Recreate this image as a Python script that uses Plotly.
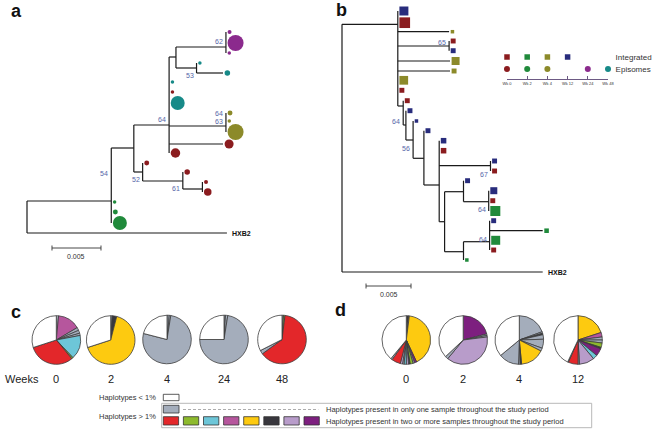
import math
import plotly.graph_objects as go

W, H = 653, 431

# ---------------- Tree a: episomal haplotypes (circles) ----------------
a_names   = ["root","HXB2","A","g1","g2","g3","B","C","G","H","p1","p2","p3","I","t1","t2","t3","r1","t4","J","o1","o2","o3","r2","r3","D","r4","E","r5","F","r6","r7"]
a_parents = [None,"root","root","A","A","A","A","B","C","G","H","H","H","G","I","I","C","C","C","C","J","J","J","C","C","B","D","D","E","E","F","F"]
a_branch  = [0,0.0204,0.0086,0,0,0,0.0023,0.0036,0.0007,0.0051,0,0,0,0.0021,0,0.0027,0,0,0,0.0058,0,0,0,0.0055,0,0.0009,0,0.0041,0,0.0020,0,0]
a_rows    = [21.7,23.3,20.1,20.2,21.2,22.3,14.8,12.5,5.7,4.7,3.2,4.3,5.3,6.8,6.3,7.3,8.2,9.2,10.3,12.6,11.3,12.1,13.2,14.4,15.3,17.2,16.3,18.1,17.2,18.9,18.2,19.2]
a_week    = [None,None,None,"Wk 2","Wk 2","Wk 2",None,None,None,None,"Wk 24","Wk 24","Wk 24",None,"Wk 48","Wk 48","Wk 48","Wk 0","Wk 48",None,"Wk 4","Wk 4","Wk 4","Wk 0","Wk 0",None,"Wk 0",None,"Wk 0",None,"Wk 0","Wk 0"]
a_abund   = [0,0,0,1,2,16,0,0,0,0,1.3,21,1,0,1,2.5,1,1,16,0,2,1,21,6.6,7.4,0,2,0,2.5,0,1.3,4.6]
a_boot_text = ["54","52","61","64","62","53","64","63"]
a_boot_node = ["A","D","E","C","H","I","J","J"]
a_boot_row  = [17.3,17.9,18.8,11.9,4.1,7.5,11.3,12.1]

# ---------------- Tree b: integrated haplotypes (squares) ----------------
b_names   = ["root","HXB2","R","n1","r1","o1","K","r2","n2","o2","o3","o4","r3","S1","r4","S2","n3","S3","n4","S4","n5","S5","n6","r5","S6","n7","r6","S7","S8","n8","S10","n9","r7","g1","S9","S11","n10","g2","g3","r8","g4"]
b_parents = [None,"root","root","R","R","R","R","K","K","R","R","R","R","R","S1","S1","S2","S2","S3","S3","S4","S4","S5","S5","S5","S6","S6","S5","S7","S8","S8","S10","S10","S10","S7","S9","S11","S11","S11","S11","S9"]
b_branch  = [0,0.0223,0.0062,0,0,0.0057,0.0057,0,0,0.0058,0.0058,0,0,0.0006,0,0.0003,0,0.0008,0,0.0012,0,0.0017,0,0,0.0057,0,0,0.0006,0.0021,0,0.0028,0,0,0,0.0021,0.0029,0,0.0059,0,0,0]
b_rows    = [14.8,27.2,2.43,1.1,2.27,3.17,4.6,4.1,5.07,6.1,7.1,8.03,9.03,10.6,10.07,12.5,11.07,14.0,12.1,15.83,13.07,18.5,14.07,15.07,16.57,16.1,17.1,22.17,19.17,18.07,20.17,19.07,20.07,21.1,25.17,24.17,22.07,23.07,24.03,25.0,26.0]
b_week    = [None,None,None,"Wk 12","Wk 0","Wk 4",None,"Wk 0","Wk 12","Wk 4","Wk 4","Wk 4","Wk 0",None,"Wk 0",None,"Wk 12",None,"Wk 12",None,"Wk 12",None,"Wk 12","Wk 0",None,"Wk 12","Wk 0",None,None,"Wk 12",None,"Wk 12","Wk 0","Wk 2",None,None,"Wk 12","Wk 2","Wk 2","Wk 0","Wk 2"]
b_abund   = [0,0,0,6.6,9.3,1,0,2,2,5.2,2,6.2,2,0,2,0,2,0,1,0,2,0,2.5,2.5,0,2,2,0,0,2,0,4,2,8.2,0,0,2,1.7,6.6,2,1]
b_boot_text = ["65","64","56","67","64","64"]
b_boot_node = ["K","S1","S3","S6","S10","S11"]
b_boot_row  = [4.23,12.1,14.8,17.43,20.93,23.9]

# ---------------- Sampling legend ----------------
legend_weeks     = ["Wk 0","Wk 2","Wk 4","Wk 12","Wk 24","Wk 48"]
integrated_weeks = ["Wk 0","Wk 2","Wk 4","Wk 12"]
episome_weeks    = ["Wk 0","Wk 2","Wk 4","Wk 24","Wk 48"]

# ---------------- Pie data (haplotype frequencies, %) ----------------
c_weeks = ["0","2","4","24","48"]
c0_vals = [1.5,15,2,2,1.5,16,1,31,30]
c0_cols = ["gray","pink","gray","gray","gray","cyan","lime","red","white"]
c2_vals = [1,3,66,30]
c2_cols = ["gray","dark","yellow","white"]
c4_vals = [1.5,1,76.5,21]
c4_cols = ["gray","gray","gray","white"]
c24_vals = [1,1.5,72.5,25]
c24_cols = ["gray","gray","gray","white"]
c48_vals = [1,1,63,2.5,32.5]
c48_cols = ["gray","lime","red","gray","white"]

d_weeks = ["0","2","4","12"]
d0_vals = [1.5,0.5,41,1.5,1,2,1,1.5,1.5,1,1.5,6,1,39]
d0_cols = ["dark","gray","yellow","purple","gray","lime","dark","lavender","cyan","gray","lavender","red","gray","white"]
d2_vals = [21,1,1,38,2,37]
d2_cols = ["purple","gray","gray","lavender","gray","white"]
d4_vals = [19.5,1,1,3,6,2,16,1,1,13.5,36]
d4_cols = ["gray","gray","dark","gray","gray","gray","yellow","dark","gray","gray","white"]
d12_vals = [20,3,2,2,3,1,5,3,10,1,6.5,0.5,43]
d12_cols = ["yellow","pink","gray","gray","lime","dark","purple","cyan","lavender","gray","red","gray","white"]

shared_haplotypes = ["red","lime","cyan","pink","yellow","dark","lavender","purple"]

# ---------------- styles ----------------
week_color = {"Wk 0": "#8b1c1f", "Wk 2": "#208a3b", "Wk 4": "#8c8a2a",
              "Wk 12": "#282c7c", "Wk 24": "#8b2a8d", "Wk 48": "#178a88"}
pie_color = {"red": "#e3272a", "lime": "#8dba2d", "cyan": "#6dc6d8", "pink": "#b6569d",
             "yellow": "#fdca10", "dark": "#38373d", "lavender": "#b89cca",
             "purple": "#7d1f7f", "gray": "#a4adbb", "white": "#ffffff"}
FONT = "Liberation Sans, Arial, sans-serif"
LINE = "#1a1a1a"
BOOT = "#5566a8"

def px(x):
    return x / W

def py(y):
    return 1 - y / H

fig = go.Figure()
annotations = []
shapes = []


def paper_text(x, y, text, size, color="#222", xanchor="center", bold=False):
    annotations.append(dict(x=px(x), y=py(y), xref="paper", yref="paper",
                            text=f"<b>{text}</b>" if bold else text, showarrow=False,
                            xanchor=xanchor, yanchor="middle",
                            font=dict(size=size, color=color, family=FONT)))


def draw_tree(names, parents, branch, rows, weeks, abund, boot_text, boot_node, boot_row,
              xa, ya, scale, symbol, sb_start, sb_row):
    idx = {n: i for i, n in enumerate(names)}
    x = [0.0] * len(names)
    children = {n: [] for n in names}
    for i, n in enumerate(names):
        p = parents[i]
        if p is not None:
            x[i] = x[idx[p]] + branch[i]
            children[p].append(i)
    sx, sy = [], []
    for i, n in enumerate(names):
        p = parents[i]
        if p is not None and branch[i] > 0:
            sx += [x[idx[p]], x[i], None]
            sy += [rows[i], rows[i], None]
    for n, ch in children.items():
        if ch:
            ys = [rows[c] for c in ch]
            sx += [x[idx[n]], x[idx[n]], None]
            sy += [min(ys), max(ys), None]
    fig.add_trace(go.Scatter(x=sx, y=sy, mode="lines", line=dict(color=LINE, width=1.2),
                             xaxis=xa, yaxis=ya, hoverinfo="skip", showlegend=False))
    # tip markers, grouped by sampling week
    for wk in legend_weeks:
        mx, my, ms = [], [], []
        for i, n in enumerate(names):
            if weeks[i] == wk:
                s = 3.5 * math.sqrt(abund[i])
                mx.append(x[i] + (s / 2 + 1.6) / scale)
                my.append(rows[i])
                ms.append(s)
        if mx:
            fig.add_trace(go.Scatter(x=mx, y=my, mode="markers", xaxis=xa, yaxis=ya,
                                     marker=dict(symbol=symbol, size=ms, color=week_color[wk],
                                                 opacity=1, line=dict(width=0)),
                                     cliponaxis=False, hoverinfo="skip", showlegend=False))
    # reference label
    ih = idx["HXB2"]
    annotations.append(dict(x=x[ih], y=rows[ih], xref=xa, yref=ya, text="<b>HXB2</b>",
                            showarrow=False, xanchor="left", yanchor="middle", xshift=3,
                            font=dict(size=7, color="#111", family=FONT)))
    # bootstrap values
    for t, nd, r in zip(boot_text, boot_node, boot_row):
        annotations.append(dict(x=x[idx[nd]], y=r, xref=xa, yref=ya, text=t, showarrow=False,
                                xanchor="right", yanchor="middle", xshift=-1,
                                font=dict(size=7, color=BOOT, family=FONT)))
    # scale bar
    sb_len = 0.005
    fig.add_trace(go.Scatter(
        x=[sb_start, sb_start + sb_len, None, sb_start, sb_start, None, sb_start + sb_len, sb_start + sb_len],
        y=[sb_row, sb_row, None, sb_row - 0.25, sb_row + 0.25, None, sb_row - 0.25, sb_row + 0.25],
        mode="lines", line=dict(color="#333", width=0.9), xaxis=xa, yaxis=ya,
        hoverinfo="skip", showlegend=False))
    annotations.append(dict(x=sb_start + sb_len / 2, y=sb_row + 0.8, xref=xa, yref=ya,
                            text=str(sb_len), showarrow=False, xanchor="center", yanchor="middle",
                            font=dict(size=7, color="#333", family=FONT)))


draw_tree(a_names, a_parents, a_branch, a_rows, a_week, a_abund,
          a_boot_text, a_boot_node, a_boot_row, "x", "y", 9800, "circle", 0.00255, 24.8)
draw_tree(b_names, b_parents, b_branch, b_rows, b_week, b_abund,
          b_boot_text, b_boot_node, b_boot_row, "x2", "y2", 9000, "square", 0.00267, 28.6)

# sampling-time legend for the trees
fig.add_trace(go.Scatter(x=integrated_weeks, y=[1] * len(integrated_weeks), mode="markers",
                         marker=dict(symbol="square", size=5.5, opacity=1,
                                     color=[week_color[w] for w in integrated_weeks]),
                         cliponaxis=False, xaxis="x3", yaxis="y3", hoverinfo="skip", showlegend=False))
fig.add_trace(go.Scatter(x=episome_weeks, y=[0] * len(episome_weeks), mode="markers",
                         marker=dict(symbol="circle", size=6, opacity=1,
                                     color=[week_color[w] for w in episome_weeks]),
                         cliponaxis=False, xaxis="x3", yaxis="y3", hoverinfo="skip", showlegend=False))

# ---------------- pies ----------------
R_PIE = 24.3
c_centers = [(56.3, 340), (110.7, 340), (167, 339.5), (224, 339.5), (282, 339.5)]
d_centers = [(406.3, 340), (463.2, 340), (519.3, 340), (578, 340)]
c_series = [(c0_vals, c0_cols), (c2_vals, c2_cols), (c4_vals, c4_cols), (c24_vals, c24_cols), (c48_vals, c48_cols)]
d_series = [(d0_vals, d0_cols), (d2_vals, d2_cols), (d4_vals, d4_cols), (d12_vals, d12_cols)]

def add_pie(vals, cols, cx, cy):
    fig.add_trace(go.Pie(values=vals, labels=[str(i) for i in range(len(vals))],
                         marker=dict(colors=[pie_color[c] for c in cols],
                                     line=dict(color="#3c3c3c", width=0.8)),
                         sort=False, direction="clockwise", rotation=0,
                         textinfo="none", hoverinfo="skip", showlegend=False,
                         domain=dict(x=[px(cx - R_PIE), px(cx + R_PIE)],
                                     y=[py(cy + R_PIE), py(cy - R_PIE)])))

for (v, c), (cx, cy), wk in zip(c_series, c_centers, c_weeks):
    add_pie(v, c, cx, cy)
    paper_text(cx, 379, wk, 11)
for (v, c), (cx, cy), wk in zip(d_series, d_centers, d_weeks):
    add_pie(v, c, cx, cy)
    paper_text(cx, 379, wk, 11)

paper_text(3, 379, "Weeks", 11, xanchor="left")

# panel letters
for letter, (lx, ly) in zip(["a", "b", "c", "d"], [(16, 11), (342, 10), (16, 312), (340, 310)]):
    paper_text(lx, ly, letter, 18, color="#111", bold=True)

# haplotype legend
paper_text(157.5, 397.5, "Haplotypes < 1%", 7.5, color="#333", xanchor="right")
paper_text(157.5, 416, "Haplotypes > 1%", 7.5, color="#333", xanchor="right")
paper_text(323.5, 409.3, "Haplotypes present in only one sample throughout the study period",
           7.5, color="#333", xanchor="left")
paper_text(323.5, 421, "Haplotypes present in two or more samples throughout the study period",
           7.5, color="#333", xanchor="left")
shapes += [
    dict(type="rect", xref="paper", yref="paper", x0=px(163.3), x1=px(179), y0=py(400.7), y1=py(394.3),
         fillcolor="white", line=dict(color="#333", width=0.8)),
    dict(type="rect", xref="paper", yref="paper", x0=px(161.7), x1=px(591.7), y0=py(427.7), y1=py(403.3),
         line=dict(color="#b8b8b8", width=1)),
    dict(type="rect", xref="paper", yref="paper", x0=px(163.3), x1=px(179), y0=py(413), y1=py(405.3),
         fillcolor=pie_color["gray"], line=dict(color="#333", width=0.8)),
    dict(type="line", xref="paper", yref="paper", x0=px(183), x1=px(318.3), y0=py(409.5), y1=py(409.5),
         line=dict(color="#8a8a8a", width=0.7, dash="3px,2px")),
]
for i, c in enumerate(shared_haplotypes):
    x0 = 163.3 + i * 20.1
    shapes.append(dict(type="rect", xref="paper", yref="paper", x0=px(x0), x1=px(x0 + 15.3),
                       y0=py(425), y1=py(416.7), fillcolor=pie_color[c],
                       line=dict(color="#333", width=0.8)))

hidden = dict(visible=False, showgrid=False, zeroline=False, fixedrange=True, automargin=False)
fig.update_layout(
    template="none",
    width=W, height=H, margin=dict(l=0, r=0, t=0, b=0, pad=0, autoexpand=False),
    paper_bgcolor="white", plot_bgcolor="rgba(0,0,0,0)",
    xaxis=dict(domain=[0, px(320)], range=[(0 - 27) / 9800, (320 - 27) / 9800], anchor="y", **hidden),
    yaxis=dict(domain=[py(300), 1], range=[30, 0], anchor="x", **hidden),
    xaxis2=dict(domain=[px(320), 1], range=[(320 - 342) / 9000, (653 - 342) / 9000], anchor="y2", **hidden),
    yaxis2=dict(domain=[py(300), 1], range=[30, 0], anchor="x2", **hidden),
    xaxis3=dict(domain=[px(507), px(608)], type="category", categoryorder="array",
                categoryarray=legend_weeks, range=[0, 5], anchor="y3", automargin=False,
                showline=True, linecolor="#6d5a84", linewidth=1, ticks="inside", ticklen=3,
                tickcolor="#6d5a84", tickwidth=1, tickfont=dict(size=4, color="#333", family=FONT),
                showgrid=False, zeroline=False, fixedrange=True),
    yaxis3=dict(domain=[py(79), py(50)], range=[-10 / 12, -10 / 12 + 29 / 12], anchor="x3",
                side="right", tickvals=[1, 0], ticktext=["Integrated", "Episomes"], automargin=False,
                ticks="outside", ticklen=5, tickcolor="rgba(0,0,0,0)",
                tickfont=dict(size=8, color="#333", family=FONT),
                showline=False, showgrid=False, zeroline=False, fixedrange=True),
    annotations=annotations, shapes=shapes,
    font=dict(family=FONT),
)

fig.write_html("out.html", config={"displayModeBar": False},
               post_script="document.body.style.margin='0';")
